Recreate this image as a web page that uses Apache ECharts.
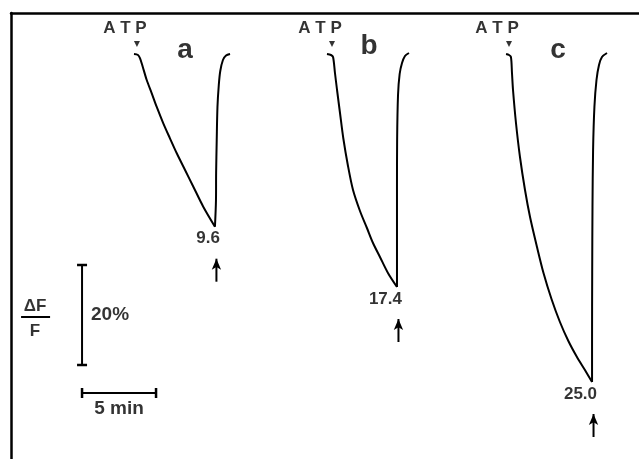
<!DOCTYPE html>
<html>
<head>
<meta charset="utf-8">
<script src="https://cdn.jsdelivr.net/npm/echarts@6/dist/echarts.min.js"></script>
<style>
html,body{margin:0;padding:0;background:#fff;}
#c{width:639px;height:459px;}
</style>
</head>
<body>
<div id="c"></div>
<script>
// ---- data (time in min, ΔF/F in %) ----
const traceNames = ['a', 'b', 'c'];
const peakLabels = ['9.6', '17.4', '25.0'];
const atpTimes = [8.51, 21.69, 33.65];

const fallA = [[8.31,0.6],[8.58,0.4],[8.72,-0.26],[8.90,-1.94],[9.17,-4.6],[9.51,-7.26],[9.84,-9.94],[10.29,-13.26],[10.74,-16.26],[11.20,-19.26],[11.76,-22.6],[12.32,-25.94],[12.99,-29.94],[13.78,-33.94]];
const riseA = [[13.78,-33.94],[13.85,-28.6],[13.86,-23.2],[13.90,-16.6],[13.95,-10.0],[14.04,-5.6],[14.14,-2.8],[14.32,-0.6],[14.53,0.3],[14.80,0.6]];

const fallB = [[21.35,0.6],[21.62,0.4],[21.76,0],[21.89,-3.2],[22.03,-6.6],[22.23,-11.2],[22.45,-16.2],[22.77,-21.8],[23.11,-26.6],[23.58,-30.8],[24.05,-34.2],[24.46,-37.2],[24.93,-40.0],[25.47,-43.2],[26.08,-46.0]];
const riseB = [[26.08,-46.0],[26.08,-36.6],[26.08,-26.6],[26.09,-16.6],[26.15,-7.6],[26.26,-3.4],[26.42,-1.2],[26.62,0.2],[26.89,0.8]];

const fallC = [[33.45,0.6],[33.65,0.4],[33.78,0],[33.85,-3.2],[33.92,-6.6],[34.12,-13.2],[34.39,-20.0],[34.73,-26.6],[35.07,-32.0],[35.54,-38.0],[35.98,-43.2],[36.52,-48.4],[37.09,-53.0],[37.66,-56.8],[38.24,-60.0],[38.78,-62.6],[39.26,-65.0]];
const riseC = [[39.26,-65.0],[39.26,-56.6],[39.27,-43.2],[39.29,-30.0],[39.33,-18.6],[39.42,-10.0],[39.56,-4.6],[39.73,-1.6],[39.93,0],[40.27,0.8]];

const timeBarMin = 5;      // scale bar: 5 min
const fBarPct = 20;        // scale bar: 20 %

// ---- layout constants ----
const X_MAX = 628 / 14.8;
const Y_MIN = -80.4, Y_MAX = 8.8;
const ATP_LEVEL = 2.6;
const BAR_T = 4.8, VBAR_TOP = -41.6, HBAR_V = -67.2;
const INK = '#000';
const FONT = '"Liberation Sans", Arial, Helvetica, sans-serif';
const TXT = {color:INK, fontFamily:FONT, textBorderWidth:0, textShadowBlur:0};

const falls = [fallA, fallB, fallC];
const rises = [riseA, riseB, riseC];
const minima = falls.map(f => f[f.length - 1]);

const series = [];
falls.forEach((f, i) => {
  series.push({type:'line', data:f, smooth:0.3, showSymbol:false, lineStyle:{color:INK, width:2}, silent:true});
  series.push({type:'line', data:rises[i], smooth:0.3, showSymbol:false, lineStyle:{color:INK, width:2}, silent:true});
});

// arrows below minima
minima.forEach(m => {
  series.push({
    type:'line', silent:true, lineStyle:{color:INK, width:2}, itemStyle:{color:INK},
    data:[
      {value:[m[0] + 0.1, m[1] - 11], symbol:'none'},
      {value:[m[0] + 0.1, m[1] - 6.4], symbol:'arrow', symbolSize:[7, 11]}
    ]
  });
});

// ATP triangles + labels
series.push({
  type:'scatter', silent:true, symbol:'triangle', symbolRotate:180, symbolSize:[6,6],
  itemStyle:{color:INK},
  data: atpTimes.map(t => [t, ATP_LEVEL]),
  label:Object.assign({show:true, formatter:'A T P', position:'inside', offset:[-12,-16],
         fontSize:17, fontWeight:'bold'}, TXT)
});

// trace names
const nameOffsets = [[48,6],[37,2],[49,6]];
series.push({
  type:'scatter', silent:true, symbolSize:0, itemStyle:{color:'transparent'},
  data: atpTimes.map((t, i) => ({value:[t, ATP_LEVEL],
     label:{formatter:traceNames[i], offset:nameOffsets[i]}})),
  label:Object.assign({show:true, position:'inside', fontSize:28, fontWeight:'bold'}, TXT)
});

// peak labels
series.push({
  type:'scatter', silent:true, symbolSize:0, itemStyle:{color:'transparent'},
  data: minima.map((m, i) => ({value:[m[0], m[1]], label:{formatter:peakLabels[i]}})),
  label:Object.assign({show:true, position:'inside', align:'right', verticalAlign:'middle', offset:[5,12],
         fontSize:17, fontWeight:'bold'}, TXT)
});

// vertical scale bar (20 %)
series.push({
  type:'line', silent:true, lineStyle:{color:INK, width:2}, itemStyle:{color:INK},
  symbol:'rect', symbolSize:[10,2.5], showSymbol:true,
  data:[[BAR_T, VBAR_TOP], [BAR_T, VBAR_TOP - fBarPct]]
});
// horizontal scale bar (5 min)
series.push({
  type:'line', silent:true, lineStyle:{color:INK, width:2}, itemStyle:{color:INK},
  symbol:'rect', symbolSize:[2.5,10], showSymbol:true,
  data:[[BAR_T, HBAR_V], [BAR_T + timeBarMin, HBAR_V]]
});
// scale bar labels
series.push({
  type:'scatter', silent:true, symbolSize:0, itemStyle:{color:'transparent'},
  data:[
    {value:[BAR_T, VBAR_TOP - fBarPct / 2], label:{formatter: fBarPct + '%', position:'right', distance:9}},
    {value:[BAR_T + timeBarMin / 2, HBAR_V], label:{formatter: timeBarMin + ' min', position:'bottom', distance:6}},
    {value:[1.62, -49.8], label:{formatter:'ΔF', position:'inside', fontSize:17}},
    {value:[1.62, -54.8], label:{formatter:'F', position:'inside', fontSize:17}}
  ],
  label:Object.assign({show:true, fontSize:19, fontWeight:'bold'}, TXT)
});
// fraction line
series.push({
  type:'line', silent:true, showSymbol:false, lineStyle:{color:INK, width:2},
  data:[[0.68, -52.0], [2.64, -52.0]]
});

const chart = echarts.init(document.getElementById('c'), null, {renderer:'canvas'});
chart.setOption({
  animation:false,
  backgroundColor:'#fff',
  grid:{left:11, top:13, right:0, bottom:0},
  xAxis:{type:'value', min:0, max:X_MAX, position:'top',
         axisLine:{show:true, onZero:false, lineStyle:{color:INK, width:2.5}},
         axisTick:{show:false}, axisLabel:{show:false}, splitLine:{show:false}},
  yAxis:{type:'value', min:Y_MIN, max:Y_MAX,
         axisLine:{show:true, onZero:false, lineStyle:{color:INK, width:2.5}},
         axisTick:{show:false}, axisLabel:{show:false}, splitLine:{show:false}},
  series: series
});
</script>
</body>
</html>
